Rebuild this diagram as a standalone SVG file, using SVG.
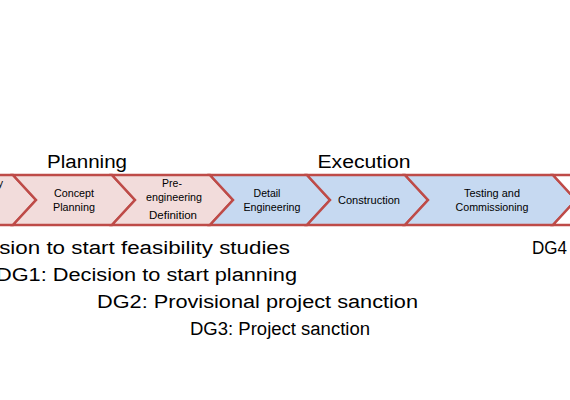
<svg xmlns="http://www.w3.org/2000/svg" width="570" height="400" viewBox="0 0 570 400">
<style>
.pk{fill:#f2dcdb;stroke:#be4b48;stroke-width:2.5;stroke-linejoin:miter}
.bl{fill:#c6d9f1;stroke:#be4b48;stroke-width:2.5;stroke-linejoin:miter}
.wh{fill:#ffffff;stroke:#be4b48;stroke-width:2.5;stroke-linejoin:miter}
.s{font-family:"Liberation Sans",Arial,sans-serif;font-size:10.5px;fill:#000;text-anchor:middle}
.h{font-family:"Liberation Sans",Arial,sans-serif;font-size:18px;fill:#000;text-anchor:middle}
.d{font-family:"Liberation Sans",Arial,sans-serif;font-size:18px;fill:#000}
</style>
<rect width="570" height="400" fill="#ffffff"/>
<g id="phase-labels">
<text class="h" x="87" y="168" textLength="80" lengthAdjust="spacingAndGlyphs">Planning</text>
<text class="h" x="364" y="168" textLength="93" lengthAdjust="spacingAndGlyphs">Execution</text>
</g>
<g id="chevrons">
<g id="feasibility">
<polygon class="pk" points="-100,175 13,175 36,200 13,225 -100,225"/>
<text class="s" x="3" y="187" style="text-anchor:end">Feasibility</text>
</g>
<g id="concept-planning">
<polygon class="pk" points="13,175 112,175 135,200 112,225 13,225 36,200"/>
<text class="s" x="74" y="197" textLength="40" lengthAdjust="spacingAndGlyphs">Concept</text>
<text class="s" x="74" y="211" textLength="42" lengthAdjust="spacingAndGlyphs">Planning</text>
</g>
<g id="pre-engineering">
<polygon class="pk" points="112,175 210,175 233,200 210,225 112,225 135,200"/>
<text class="s" x="172" y="187">Pre-</text>
<text class="s" x="174" y="201" textLength="56" lengthAdjust="spacingAndGlyphs">engineering</text>
<text class="s" x="173" y="219" textLength="48" lengthAdjust="spacingAndGlyphs">Definition</text>
</g>
<g id="detail-engineering">
<polygon class="bl" points="210,175 307,175 330,200 307,225 210,225 233,200"/>
<text class="s" x="267" y="197">Detail</text>
<text class="s" x="272" y="211" textLength="57" lengthAdjust="spacingAndGlyphs">Engineering</text>
</g>
<g id="construction">
<polygon class="bl" points="307,175 405,175 428,200 405,225 307,225 330,200"/>
<text class="s" x="369" y="204" textLength="62" lengthAdjust="spacingAndGlyphs">Construction</text>
</g>
<g id="testing-commissioning">
<polygon class="bl" points="405,175 553,175 576,200 553,225 405,225 428,200"/>
<text class="s" x="492" y="197" textLength="56" lengthAdjust="spacingAndGlyphs">Testing and</text>
<text class="s" x="492" y="211" textLength="73" lengthAdjust="spacingAndGlyphs">Commissioning</text>
</g>
<g id="next-phase">
<polygon class="wh" points="553,175 680,175 680,225 553,225 576,200"/>
</g>
</g>
<g id="decision-gates">
<text class="d" x="290" y="254" text-anchor="end" textLength="394" lengthAdjust="spacingAndGlyphs">DG0: Decision to start feasibility studies</text>
<text class="d" x="-4" y="281" textLength="301" lengthAdjust="spacingAndGlyphs">DG1: Decision to start planning</text>
<text class="d" x="97" y="308" textLength="321" lengthAdjust="spacingAndGlyphs">DG2: Provisional project sanction</text>
<text class="d" x="190" y="335" textLength="180" lengthAdjust="spacingAndGlyphs">DG3: Project sanction</text>
<text class="d" x="532" y="254" textLength="35" lengthAdjust="spacingAndGlyphs">DG4</text>
</g>
</svg>
